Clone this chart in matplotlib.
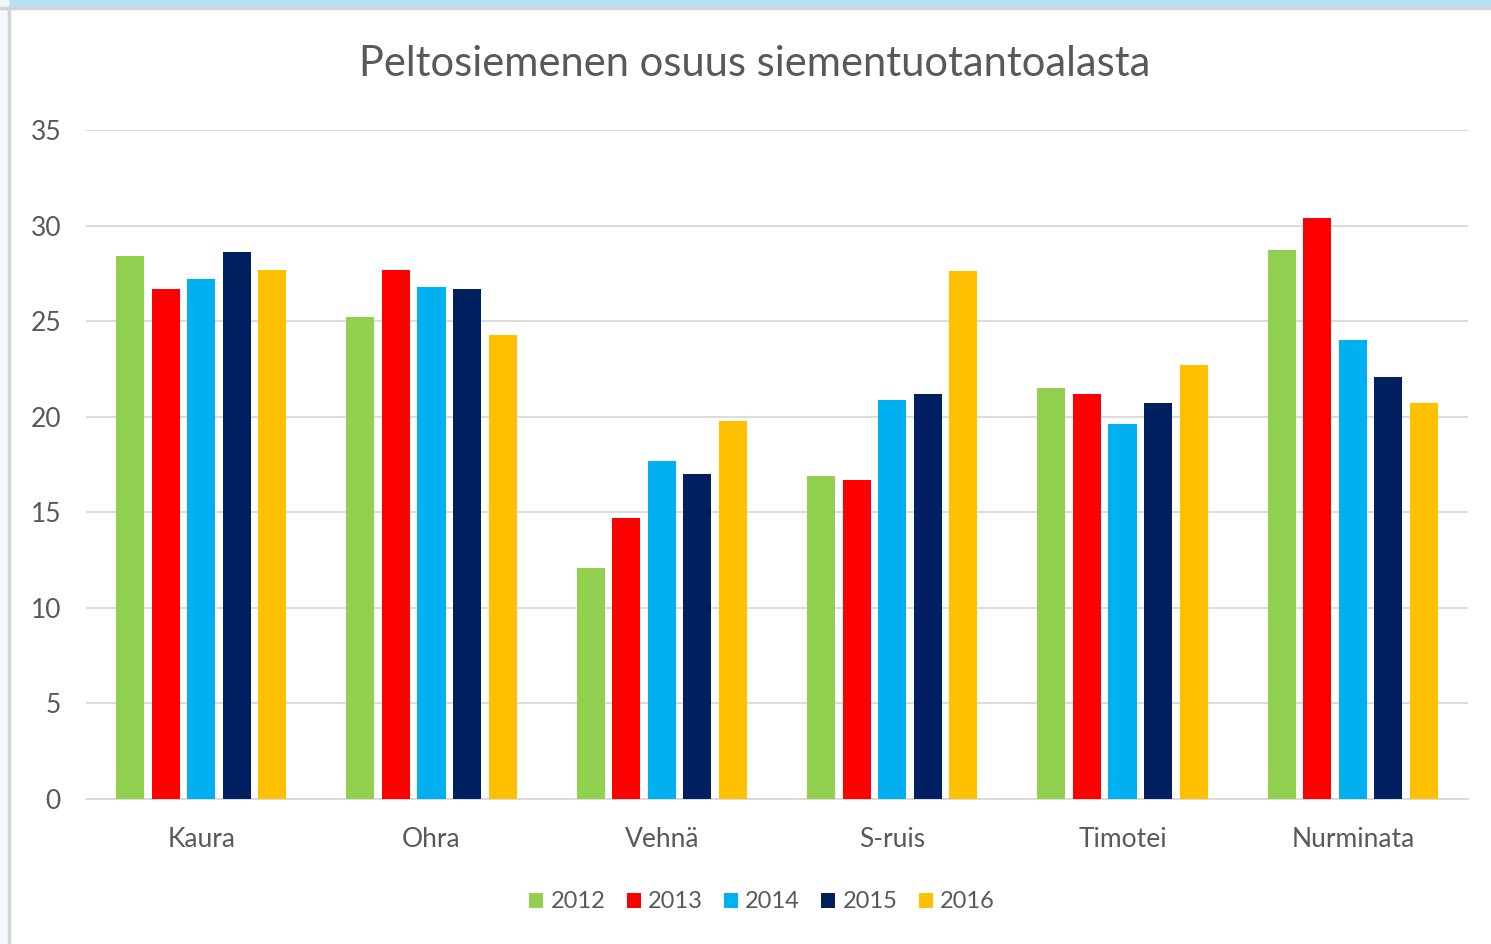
import matplotlib.pyplot as plt
import numpy as np
from matplotlib.patches import Rectangle

categories = ["Kaura", "Ohra", "Vehnä", "S-ruis", "Timotei", "Nurminata"]
years = ["2012", "2013", "2014", "2015", "2016"]
v2012 = [28.4, 25.2, 12.1, 16.9, 21.5, 28.7]
v2013 = [26.7, 27.7, 14.7, 16.7, 21.2, 30.4]
v2014 = [27.2, 26.8, 17.7, 20.9, 19.6, 24.0]
v2015 = [28.6, 26.7, 17.0, 21.2, 20.7, 22.1]
v2016 = [27.7, 24.3, 19.8, 27.6, 22.7, 20.7]
colors = ["#92d050", "#ff0000", "#00b0f0", "#002060", "#ffc000"]
yticks = [0, 5, 10, 15, 20, 25, 30, 35]

plt.rcParams['font.family'] = ['Lato', 'DejaVu Sans']
text_col = "#595959"

fig = plt.figure(figsize=(14.91, 9.44), dpi=100)
W, H = 1491, 944

# screenshot frame: blue strip on top, grey border
fig.patches.append(Rectangle((0, 1 - 7 / H), 1, 7 / H, transform=fig.transFigure,
                             color="#b3e0f7", zorder=0))
fig.patches.append(Rectangle((0, 0), 8 / W, 1, transform=fig.transFigure,
                             color="#f2f8fd", zorder=0))
fig.lines.append(plt.Line2D([0, 1], [1 - 8 / H, 1 - 8 / H], transform=fig.transFigure,
                            color="#d4d4d4", lw=2.5))
fig.lines.append(plt.Line2D([9 / W, 9 / W], [0, 1 - 8 / H], transform=fig.transFigure,
                            color="#d4d4d4", lw=2.5))

ax = fig.add_axes([86 / W, 1 - 799 / H, (1468 - 86) / W, (799 - 130) / H])
x = np.arange(len(categories))
series = [v2012, v2013, v2014, v2015, v2016]
slot = 35.5 / 230.2
bw = 28 / 230.2
for i, (vals, c, yr) in enumerate(zip(series, colors, years)):
    ax.bar(x + (i - 2) * slot, vals, width=bw, color=c, label=yr, zorder=3)

ax.set_xlim(-0.5, len(categories) - 0.5)
ax.set_ylim(0, 35)
ax.set_yticks(yticks)
ax.set_xticks(x)
ax.set_xticklabels(categories)
ax.grid(axis='y', color="#d9d9d9", lw=1.3, zorder=0)
for s in ["top", "right", "left"]:
    ax.spines[s].set_visible(False)
ax.spines["bottom"].set_color("#d9d9d9")
ax.spines["bottom"].set_linewidth(1.3)
ax.tick_params(axis='both', length=0, labelsize=19, colors=text_col)
ax.tick_params(axis='y', pad=18)
ax.tick_params(axis='x', pad=20)

fig.text(755 / W, 1 - 64 / H, "Peltosiemenen osuus siementuotantoalasta",
         ha='center', va='center', fontsize=30, color=text_col)

leg = fig.legend(loc='center', bbox_to_anchor=(762 / W, 1 - 902 / H), ncol=5,
                 frameon=False, fontsize=17, handlelength=0.6, handleheight=0.6,
                 handletextpad=0.3, columnspacing=0.9)
for t in leg.get_texts():
    t.set_color(text_col)

fig.savefig("out.png", dpi=100)
